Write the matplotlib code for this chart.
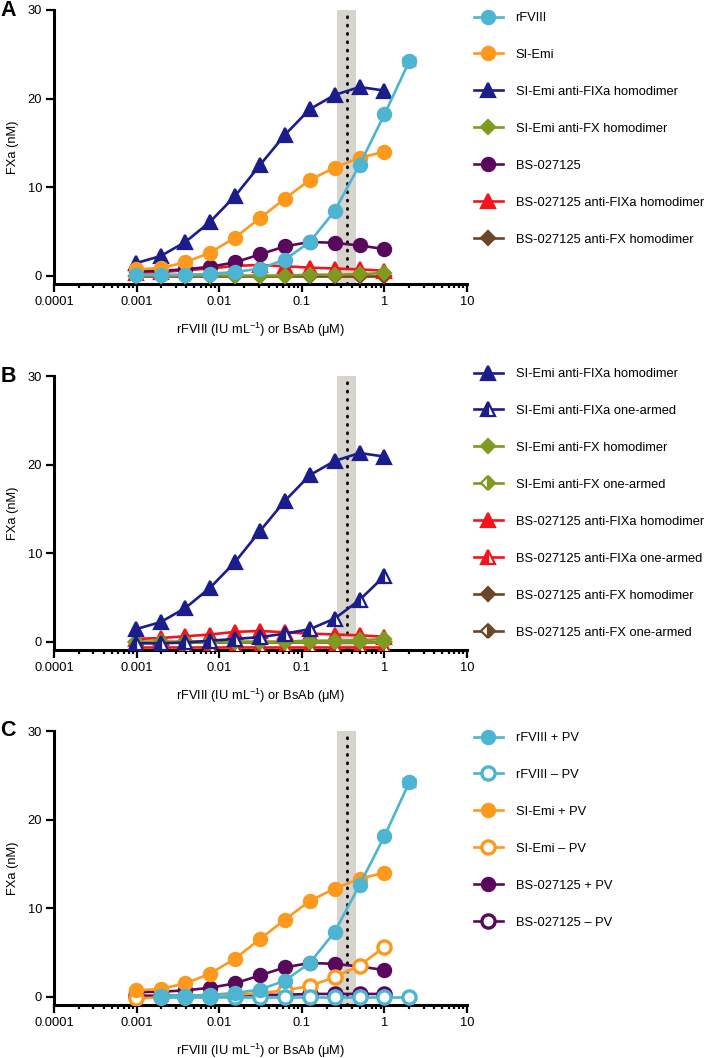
import matplotlib
matplotlib.use("Agg")
import matplotlib.pyplot as plt
from matplotlib.ticker import LogLocator, NullFormatter

plt.rcParams["font.family"] = ["Liberation Sans", "DejaVu Sans"]
plt.rcParams["mathtext.fontset"] = "custom"
plt.rcParams["mathtext.rm"] = "Liberation Sans"
plt.rcParams["mathtext.it"] = "Liberation Sans:italic"
plt.rcParams["mathtext.default"] = "regular"

# concentrations (2-fold dilution series)
conc = [0.000977, 0.00195, 0.0039, 0.0078, 0.0156, 0.03125, 0.0625, 0.125, 0.25, 0.5, 1.0]
conc_fviii = conc + [2.0]
conc_fviii_c = conc[1:] + [2.0]

# panel A
rfviii = [0.1, 0.1, 0.1, 0.2, 0.4, 0.8, 1.8, 3.8, 7.3, 12.5, 18.2, 24.2]
rfviii_err = [0, 0, 0, 0, 0, 0, 0, 0, 0, 0, 0, 0.4]
si_emi = [0.7, 0.85, 1.5, 2.6, 4.3, 6.5, 8.7, 10.8, 12.2, 13.3, 14.0]
si_fixa_homo = [1.4, 2.2, 3.8, 6.1, 9.0, 12.5, 15.9, 18.8, 20.4, 21.3, 20.9]
si_fx_homo = [0.0, 0.0, 0.0, 0.0, 0.0, 0.0, 0.0, 0.1, 0.1, 0.15, 0.3]
bs = [0.5, 0.55, 0.7, 1.0, 1.5, 2.4, 3.3, 3.8, 3.7, 3.4, 3.0]
bs_fixa_homo = [0.3, 0.4, 0.6, 0.8, 1.1, 1.2, 1.05, 0.9, 0.8, 0.7, 0.55]
bs_fx_homo = [0.0, 0.0, 0.0, 0.0, 0.0, 0.0, 0.0, 0.0, 0.0, 0.0, 0.0]

# panel B (one-armed variants)
si_fixa_one = [-0.2, -0.2, -0.1, 0.1, 0.3, 0.5, 0.9, 1.4, 2.6, 4.7, 7.4]
si_fx_one = [-0.1, -0.1, -0.1, -0.1, -0.1, -0.1, -0.1, -0.1, -0.1, -0.1, -0.1]
bs_fixa_one = [-0.6, -0.6, -0.6, -0.6, -0.6, -0.6, -0.6, -0.6, -0.6, -0.6, -0.6]
bs_fx_one = [0.0, 0.0, 0.0, 0.0, 0.0, 0.0, 0.0, 0.0, 0.0, 0.0, 0.0]

# panel C (+/- phospholipid vesicles)
rfviii_pv = [0.1, 0.1, 0.2, 0.4, 0.8, 1.8, 3.8, 7.3, 12.6, 18.1, 24.2]
rfviii_pv_err = [0, 0, 0, 0, 0, 0, 0, 0, 0, 0, 0.4]
rfviii_nopv = [0.0, 0.0, 0.0, 0.0, 0.0, 0.0, 0.0, 0.0, 0.0, 0.0, 0.0]
si_emi_nopv = [-0.2, -0.1, 0.0, 0.1, 0.2, 0.4, 0.7, 1.2, 2.2, 3.5, 5.6]
bs_nopv = [0.1, 0.1, 0.1, 0.1, 0.1, 0.2, 0.2, 0.3, 0.3, 0.3, 0.3]

xticks = [1e-4, 1e-3, 1e-2, 1e-1, 1, 10]
xticklabels = ["0.0001", "0.001", "0.01", "0.1", "1", "10"]
yticks = [0, 10, 20, 30]

CYAN = "#4db4d1"
ORANGE = "#fd9a1e"
NAVY = "#1a1d8b"
OLIVE = "#7e9a20"
PURPLE = "#58095c"
RED = "#f3141c"
BROWN = "#6b4728"

FS = 9.3


def series(ax, x, y, color, marker, label, open_style=None, z=3, yerr=None):
    ms = {"o": 9.5, "^": 10.5, "D": 6.8}[marker]
    kw = dict(color=color, marker=marker, ms=ms, lw=1.9, mec=color,
              mew=1.6, label=label, zorder=z)
    if open_style == "hollow":
        kw.update(mfc="white", mew=2.4)
    elif open_style is not None:
        kw.update(fillstyle=open_style, mfc=color, mfcalt="white")
    else:
        kw.update(mfc=color)
    line, = ax.plot(x, y, **kw)
    if yerr is not None:
        ax.errorbar(x, y, yerr=yerr, fmt="none", ecolor=color, elinewidth=2.5,
                    capsize=5, capthick=2.5, zorder=z)
    return line


def style(ax, letter):
    ax.set_xscale("log")
    ax.set_xlim(1e-4, 10)
    ax.set_ylim(-0.95, 30)
    ax.axvspan(0.265, 0.45, color="#d7d4cd", lw=0, zorder=0)
    ax.axvline(0.356, color="black", lw=2.0, ls=(0, (0.4, 2.6)),
               dash_capstyle="round", zorder=1)
    for s in ["top", "right"]:
        ax.spines[s].set_visible(False)
    for s in ["left", "bottom"]:
        ax.spines[s].set_linewidth(2.2)
    ax.set_xticks(xticks, labels=xticklabels)
    ax.xaxis.set_minor_locator(LogLocator(base=10, subs=range(2, 10), numticks=20))
    ax.xaxis.set_minor_formatter(NullFormatter())
    ax.set_yticks(yticks)
    ax.tick_params(axis="both", which="major", direction="out", width=1.6,
                   length=5.5, labelsize=FS, pad=3)
    ax.tick_params(axis="x", which="minor", direction="out", width=1.6, length=3.2)
    ax.set_xlabel("rFVIII (IU mL$^{\u22121}$) or BsAb (\u03bcM)", fontsize=FS, labelpad=9)
    ax.set_ylabel("FXa (nM)", fontsize=FS, labelpad=6)
    ax.text(-0.13, 1.0, letter, transform=ax.transAxes, fontsize=15.5,
            fontweight="bold", ha="left", va="center")


def legend(ax, handles, ytop):
    ax.legend(handles=handles, loc="upper left", bbox_to_anchor=(0.668, ytop),
              bbox_transform=ax.figure.transFigure, frameon=False,
              fontsize=FS, borderpad=0, borderaxespad=0, handlelength=2.3,
              handletextpad=0.95, labelspacing=1.93, numpoints=1)


fig = plt.figure(figsize=(7.09, 10.58), dpi=100, facecolor="white")
L, W = 54 / 709, 413 / 709
axA = fig.add_axes([L, 1 - 284 / 1058, W, 274 / 1058])
axB = fig.add_axes([L, 1 - 650 / 1058, W, 274 / 1058])
axC = fig.add_axes([L, 1 - 1005 / 1058, W, 274 / 1058])

# A: first legend entry drawn on top
hA = [
    series(axA, conc_fviii, rfviii, CYAN, "o", "rFVIII", z=10, yerr=rfviii_err),
    series(axA, conc, si_emi, ORANGE, "o", "SI-Emi", z=9),
    series(axA, conc, si_fixa_homo, NAVY, "^", "SI-Emi anti-FIXa homodimer", z=8),
    series(axA, conc, si_fx_homo, OLIVE, "D", "SI-Emi anti-FX homodimer", z=7),
    series(axA, conc, bs, PURPLE, "o", "BS-027125", z=6),
    series(axA, conc, bs_fixa_homo, RED, "^", "BS-027125 anti-FIXa homodimer", z=5),
    series(axA, conc, bs_fx_homo, BROWN, "D", "BS-027125 anti-FX homodimer", z=4),
]
style(axA, "A")
legend(axA, hA, 1 - 12 / 1058)

# B
hB = [
    series(axB, conc, si_fixa_homo, NAVY, "^", "SI-Emi anti-FIXa homodimer", z=11),
    series(axB, conc, si_fixa_one, NAVY, "^", "SI-Emi anti-FIXa one-armed", "left", z=10),
    series(axB, conc, si_fx_homo, OLIVE, "D", "SI-Emi anti-FX homodimer", z=9),
    series(axB, conc, si_fx_one, OLIVE, "D", "SI-Emi anti-FX one-armed", "right", z=8),
    series(axB, conc, bs_fixa_homo, RED, "^", "BS-027125 anti-FIXa homodimer", z=7),
    series(axB, conc, bs_fixa_one, RED, "^", "BS-027125 anti-FIXa one-armed", "left", z=6),
    series(axB, conc, bs_fx_homo, BROWN, "D", "BS-027125 anti-FX homodimer", z=5),
    series(axB, conc, bs_fx_one, BROWN, "D", "BS-027125 anti-FX one-armed", "right", z=4),
]
style(axB, "B")
legend(axB, hB, 1 - 368 / 1058)

# C
hC = [
    series(axC, conc_fviii_c, rfviii_pv, CYAN, "o", "rFVIII + PV", z=10, yerr=rfviii_pv_err),
    series(axC, conc_fviii_c, rfviii_nopv, CYAN, "o", "rFVIII \u2013 PV", "hollow", z=9),
    series(axC, conc, si_emi, ORANGE, "o", "SI-Emi + PV", z=8),
    series(axC, conc, si_emi_nopv, ORANGE, "o", "SI-Emi \u2013 PV", "hollow", z=7),
    series(axC, conc, bs, PURPLE, "o", "BS-027125 + PV", z=6),
    series(axC, conc, bs_nopv, PURPLE, "o", "BS-027125 \u2013 PV", "hollow", z=5),
]
style(axC, "C")
legend(axC, hC, 1 - 732 / 1058)

fig.savefig("out.png", dpi=100, facecolor="white")
